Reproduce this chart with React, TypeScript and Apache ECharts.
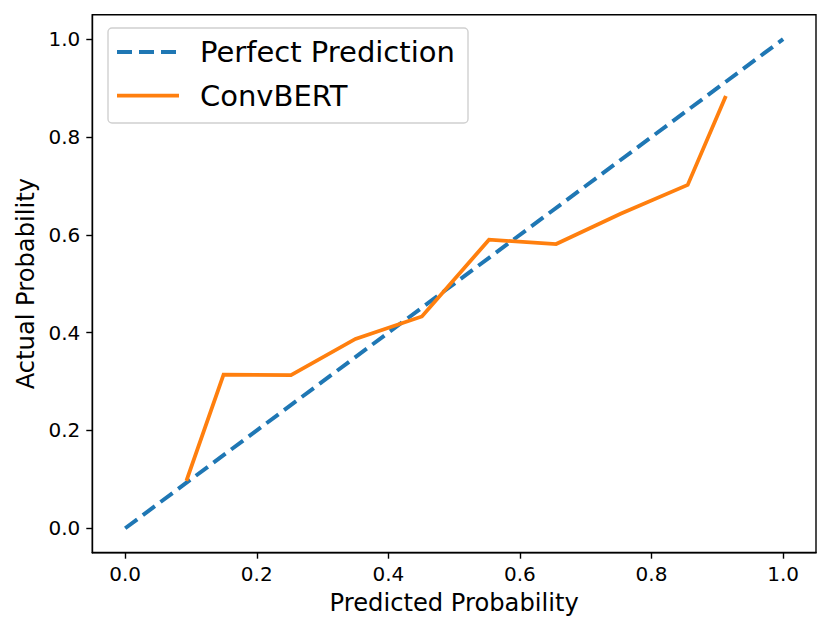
import React, { useEffect, useRef } from "react";
import * as echarts from "echarts";

const tickValues = [0, 0.2, 0.4, 0.6, 0.8, 1.0];
const perfectX = [0, 1];
const perfectY = [0, 1];
const convX = [0.093, 0.1495, 0.252, 0.35, 0.451, 0.553, 0.655, 0.753, 0.855, 0.913];
const convY = [0.097, 0.314, 0.313, 0.387, 0.433, 0.59, 0.581, 0.643, 0.702, 0.884];
const seriesNames = ["Perfect Prediction", "ConvBERT"];
const colors = ["#1f77b4", "#ff7f0e"];

const FONT = "DejaVu Sans";

export default function App() {
  const ref = useRef<HTMLDivElement>(null);
  useEffect(() => {
    if (!ref.current) return;
    const chart = echarts.init(ref.current, null, { renderer: "svg" });
    const fmt = (v: number) => v.toFixed(1);
    const axisCommon = {
      type: "value",
      min: -0.05,
      max: 1.05,
      splitLine: { show: false },
      axisLine: { show: true, onZero: false, lineStyle: { color: "#000", width: 1.4 } },
      axisTick: { show: true, length: 6, customValues: tickValues, lineStyle: { color: "#000", width: 1.4 } },
      nameLocation: "middle",
      nameTextStyle: { fontFamily: FONT, fontSize: 24.2, color: "#000" },
    };
    const legendX = 108, legendY = 28;
    chart.setOption({
      animation: false,
      backgroundColor: "#fff",
      grid: {
        left: 92.3,
        top: 14.7,
        right: 15,
        bottom: 81.3,
        show: true,
        borderColor: "#000",
        borderWidth: 1.4,
        backgroundColor: "transparent",
      },
      xAxis: {
        ...axisCommon,
        name: "Predicted Probability",
        nameGap: 38,
        axisLabel: {
          customValues: tickValues,
          formatter: fmt,
          fontFamily: FONT,
          fontSize: 20,
          color: "#000",
          margin: 11,
        },
      },
      yAxis: {
        ...axisCommon,
        name: "Actual Probability",
        nameGap: 52,
        axisLabel: {
          customValues: tickValues,
          formatter: fmt,
          fontFamily: FONT,
          fontSize: 20,
          color: "#000",
          margin: 12,
        },
      },
      series: [
        {
          name: seriesNames[0],
          type: "line",
          data: perfectX.map((x, i) => [x, perfectY[i]]),
          showSymbol: false,
          lineStyle: { color: colors[0], width: 4, type: [15, 7], cap: "butt" },
          z: 2,
        },
        {
          name: seriesNames[1],
          type: "line",
          data: convX.map((x, i) => [x, convY[i]]),
          showSymbol: false,
          lineStyle: { color: colors[1], width: 3.8, cap: "butt", join: "miter" },
          z: 3,
        },
      ],
      graphic: [
        {
          type: "rect",
          shape: { x: legendX, y: legendY, width: 360, height: 95, r: 4 },
          style: { fill: "rgba(255,255,255,0.8)", stroke: "#d0d0d0", lineWidth: 1.4 },
          z: 10,
        },
        {
          type: "line",
          shape: { x1: 117, y1: 52, x2: 179, y2: 52 },
          style: { stroke: colors[0], lineWidth: 4, lineDash: [15, 7] },
          z: 11,
        },
        {
          type: "line",
          shape: { x1: 117, y1: 95.7, x2: 179, y2: 95.7 },
          style: { stroke: colors[1], lineWidth: 3.8 },
          z: 11,
        },
        {
          type: "text",
          x: 200,
          y: 52,
          style: { text: seriesNames[0], font: `29px "${FONT}"`, fill: "#000", textVerticalAlign: "middle", verticalAlign: "middle" },
          z: 11,
        },
        {
          type: "text",
          x: 200,
          y: 95.7,
          style: { text: seriesNames[1], font: `29px "${FONT}"`, fill: "#000", textVerticalAlign: "middle", verticalAlign: "middle" },
          z: 11,
        },
      ],
    });
    return () => chart.dispose();
  }, []);
  return <div ref={ref} style={{ position: "fixed", left: 0, top: 0, width: 831, height: 634 }} />;
}
